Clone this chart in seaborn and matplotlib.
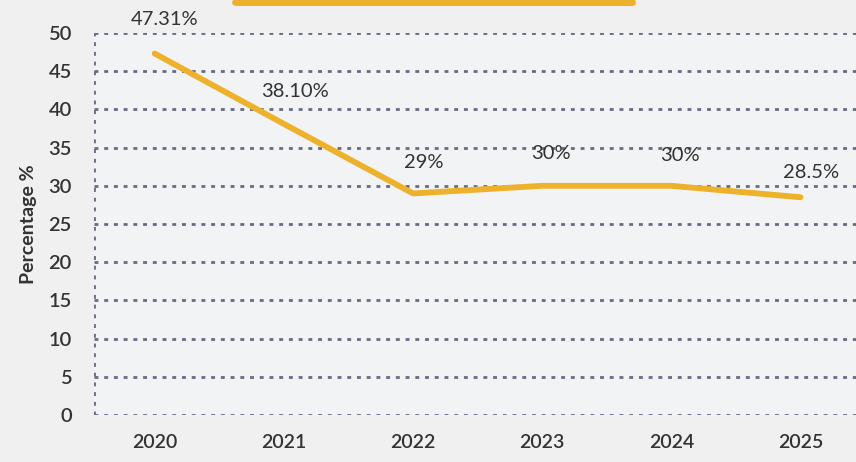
import matplotlib
matplotlib.use("Agg")
import matplotlib.pyplot as plt
from matplotlib.lines import Line2D
import seaborn as sns
import pandas as pd

years = ["2020", "2021", "2022", "2023", "2024", "2025"]
percent = [47.31, 38.10, 29, 30, 30, 28.5]
value_labels = ["47.31%", "38.10%", "29%", "30%", "30%", "28.5%"]
y_ticks = [0, 5, 10, 15, 20, 25, 30, 35, 40, 45, 50]

sns.set_theme(style="white")
plt.rcParams["font.family"] = ["Lato", "DejaVu Sans"]

bg = "#F0F0F0"
line_color = "#EDB12B"
text_color = "#333333"
grid_color = "#666B85"
dots = (0, (1.4, 2.1))

df = pd.DataFrame({"pos": range(len(years)), "pct": percent})

fig = plt.figure(figsize=(8.56, 4.62), dpi=100, facecolor=bg)
ax = fig.add_axes([0.1098, 0.1017, 0.8902, 0.8269])
ax.set_facecolor("#F2F3F5")

sns.lineplot(data=df, x="pos", y="pct", ax=ax, color=line_color,
             linewidth=4.2, solid_capstyle="round", zorder=3)

ax.set_xlim(-0.47, 5.43)
ax.set_ylim(0, 50)
ax.set_yticks(y_ticks)
ax.set_yticklabels([str(v) for v in y_ticks])
ax.set_xticks(range(len(years)))
ax.set_xticklabels(years)

for v in y_ticks:
    ax.axhline(v, color=grid_color, linestyle=dots, linewidth=2.0, zorder=1)
ax.axvline(-0.47, color=grid_color, linestyle=dots, linewidth=2.0, zorder=1)

for s in ax.spines.values():
    s.set_visible(False)

ax.tick_params(axis="y", length=0, pad=16, labelsize=14.5, labelcolor=text_color)
ax.tick_params(axis="x", length=0, pad=14, labelsize=14, labelcolor=text_color)
for t in ax.get_xticklabels() + ax.get_yticklabels():
    t.set_fontweight("semibold")

ax.set_xlabel("")
ax.set_ylabel("Percentage %", fontsize=14, color=text_color,
              fontweight="bold", labelpad=8)

offsets = [(0.08, 4.5), (0.085, 4.2), (0.085, 4.1), (0.07, 4.2), (0.07, 4.0), (0.08, 3.3)]
for i, (lab, (dx, dy)) in enumerate(zip(value_labels, offsets)):
    ax.text(i + dx, percent[i] + dy, lab, ha="center", va="center",
            fontsize=14.5, color=text_color, zorder=4, clip_on=False)

# legend swatch along the top edge
fig.add_artist(Line2D([235 / 856, 632 / 856], [1 - 2 / 462, 1 - 2 / 462],
                      color=line_color, linewidth=5, transform=fig.transFigure))

fig.savefig("out.png", dpi=100, facecolor=bg)
